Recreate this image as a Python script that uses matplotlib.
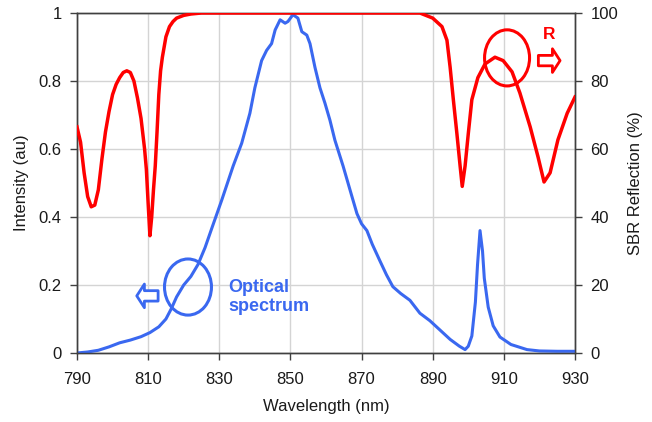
import matplotlib
matplotlib.use("Agg")
import matplotlib.pyplot as plt
from matplotlib.patches import Ellipse
from matplotlib.ticker import FuncFormatter

plt.rcParams['font.family'] = ['Liberation Sans', 'DejaVu Sans']

# ---- data ----
spec_wl = [790, 793, 796, 799, 802, 805, 808, 810.5, 813, 815, 816.5, 818, 820, 822, 824, 826, 828,
           830.7, 833.9, 836.3, 838.6, 840, 841.9, 843.3, 844.7, 845.7, 847.1, 848.5, 849.3, 850.7,
           852.1, 853.2, 854.6, 855.5, 856.9, 858.3, 859.7, 861.1, 862.5, 864.8, 867.3, 868.7,
           870, 871.5, 873, 875.2, 877, 878.8, 881, 883.6, 886.4, 889.2, 892, 894.9, 897.5, 899.1,
           900, 901, 902, 902.6, 903.3, 904, 904.5, 905.6, 907, 908.9, 912, 916.5, 920, 925, 930]
spec_int = [0.0, 0.003, 0.008, 0.018, 0.03, 0.038, 0.048, 0.06, 0.077, 0.1, 0.13, 0.165, 0.2, 0.225,
            0.26, 0.31, 0.37, 0.45, 0.55, 0.617, 0.705, 0.78, 0.86, 0.89, 0.91, 0.95, 0.98, 0.97,
            0.975, 0.995, 0.985, 0.945, 0.935, 0.91, 0.84, 0.78, 0.735, 0.685, 0.626, 0.55, 0.46,
            0.41, 0.38, 0.36, 0.32, 0.27, 0.23, 0.195, 0.175, 0.155, 0.117, 0.095, 0.068, 0.04,
            0.02, 0.01, 0.02, 0.05, 0.15, 0.26, 0.36, 0.3, 0.22, 0.135, 0.08, 0.047, 0.025, 0.01,
            0.006, 0.005, 0.005]

refl_wl = [790, 791, 792, 793, 794, 795, 796, 797, 798, 799, 800, 801, 802, 803, 804, 805, 806, 807,
           808, 809, 809.5, 810, 810.5, 811, 811.5, 812, 812.5, 813, 813.5, 814, 815, 816, 817, 818,
           820, 822, 825, 880, 886.4, 890, 892.6, 894, 894.9, 895.8, 896.8, 897.7, 898.3, 899.1,
           900, 901, 902.7, 904.7, 907.5, 909.8, 912.3, 914.5, 917.4, 919.6, 921.3, 923, 925.2,
           927.8, 930]
refl_pct = [66.5, 62, 53, 46, 43, 43.5, 48, 57, 65, 71, 76, 79, 81, 82.5, 83, 82.5, 80, 75,
            69, 60, 54, 44, 34.5, 40, 48, 55, 65, 76, 83, 87, 93, 96, 97.5, 98.5,
            99.3, 99.7, 100, 100, 100, 98.5, 96, 92, 84, 74.5, 64.5, 55, 49, 55,
            64.5, 74.5, 81, 85, 87, 86, 82.7, 76.5, 66.5, 57.7, 50.3, 53, 62.7,
            70.5, 75.3]

x_ticks = [790, 810, 830, 850, 870, 890, 910, 930]
left_ticks = [0, 0.2, 0.4, 0.6, 0.8, 1]
right_ticks = [0, 20, 40, 60, 80, 100]

blue = '#3a68f0'
red = '#ff0000'
spine_c = '#404040'

fig = plt.figure(figsize=(6.52, 4.22), dpi=100)
ax = fig.add_axes([77 / 652, 1 - 353 / 422, 498 / 652, 340 / 422])
ax2 = ax.twinx()

ax.plot(spec_wl, spec_int, color=blue, lw=2.2, solid_joinstyle='round', zorder=3)
ax2.plot(refl_wl, refl_pct, color=red, lw=2.5, solid_joinstyle='round', zorder=3)

ax.set_xlim(790, 930)
ax.set_ylim(0, 1)
ax2.set_ylim(0, 100)
ax.set_xticks(x_ticks)
ax.set_yticks(left_ticks)
ax2.set_yticks(right_ticks)
ax.yaxis.set_major_formatter(FuncFormatter(lambda v, p: '%g' % v))

ax.grid(True, color='#d4d4d4', lw=1.0)
ax.set_axisbelow(True)

for a in (ax, ax2):
    for s in a.spines.values():
        s.set_color(spine_c)
        s.set_linewidth(1.0)
    a.tick_params(colors=spine_c, labelcolor='#1a1a1a', labelsize=12, length=5, width=1, direction='out')
ax.tick_params(axis='x', pad=9)
ax.tick_params(axis='y', pad=6)
ax2.tick_params(axis='y', pad=6)

ax.set_xlabel('Wavelength (nm)', fontsize=12, color='#1a1a1a', labelpad=8)
ax.set_ylabel('Intensity (au)', fontsize=12, color='#1a1a1a', labelpad=7)
ax2.set_ylabel('SBR Reflection (%)', fontsize=12, color='#1a1a1a', labelpad=7)

# annotations
ax.add_patch(Ellipse((821.2, 0.194), 13.2, 0.165, fill=False, ec=blue, lw=2.2, zorder=4))
ax.add_patch(Ellipse((910.9, 0.868), 12.65, 0.165, fill=False, ec=red, lw=2.2, zorder=4))

ax.annotate('', xy=(806.8, 0.168), xytext=(812.8, 0.168),
            arrowprops=dict(arrowstyle='simple,head_length=0.55,head_width=1.7,tail_width=0.75',
                            fc='white', ec=blue, lw=2.0, mutation_scale=10, shrinkA=0, shrinkB=0),
            zorder=5)
ax.annotate('', xy=(925.8, 0.86), xytext=(919.7, 0.86),
            arrowprops=dict(arrowstyle='simple,head_length=0.55,head_width=1.7,tail_width=0.75',
                            fc='white', ec=red, lw=2.0, mutation_scale=10, shrinkA=0, shrinkB=0),
            zorder=5)

ax.text(832.5, 0.165, 'Optical\nspectrum', color=blue, fontsize=13, fontweight='bold',
        ha='left', va='center', linespacing=1.2, zorder=5)
ax.text(922.7, 0.938, 'R', color=red, fontsize=12.5, fontweight='bold', ha='center', va='center', zorder=5)

fig.savefig('out.png', dpi=100)
